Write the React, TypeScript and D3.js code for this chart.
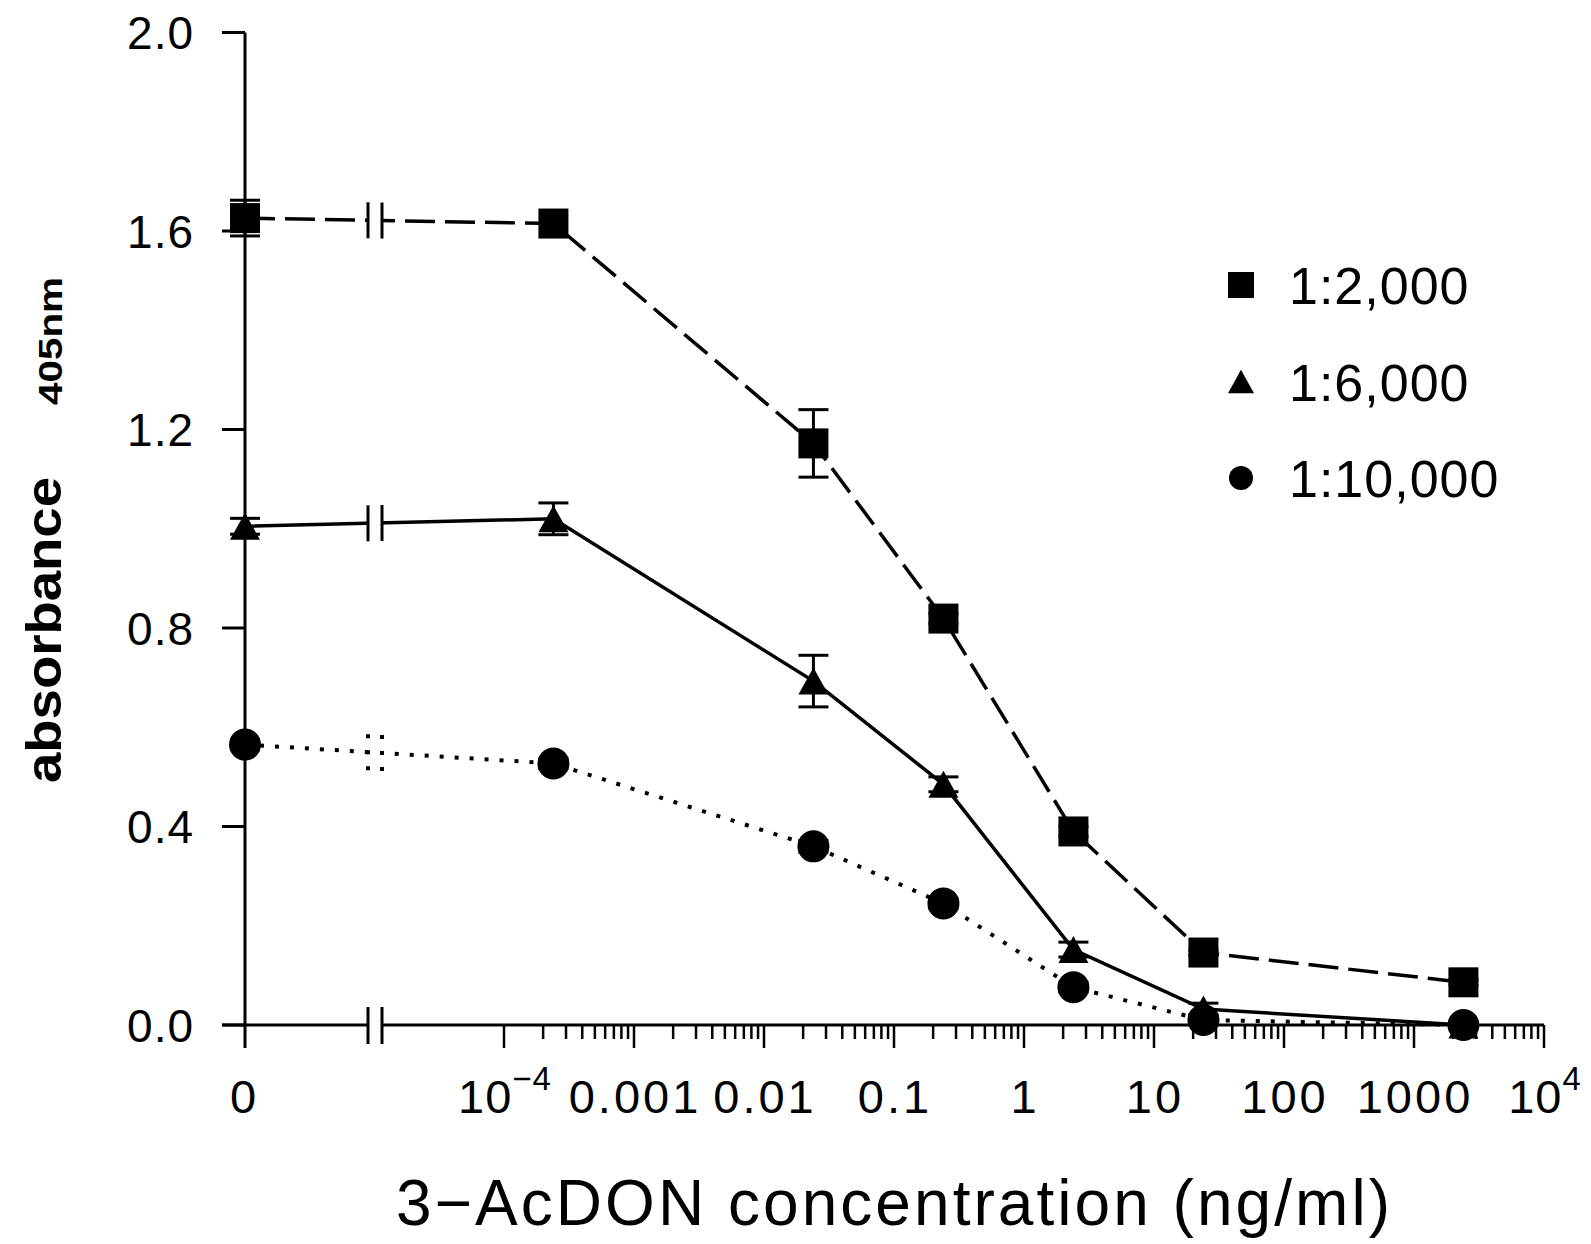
import * as d3 from 'd3';

// concentrations in ng/ml (0 = blank, plotted left of the axis break)
const concentrations = [0, 0.00024, 0.024, 0.24, 2.4, 24, 2400];

const dil2000 = [1.626, 1.615, 1.172, 0.819, 0.39, 0.146, 0.086];
const dil2000Err = [0.036, 0, 0.068, 0.01, 0.01, 0.005, 0.005];
const dil6000 = [1.005, 1.02, 0.693, 0.485, 0.152, 0.032, 0.0];
const dil6000Err = [0.016, 0.032, 0.052, 0.015, 0.015, 0.012, 0];
const dil10000 = [0.565, 0.527, 0.36, 0.245, 0.076, 0.01, 0.0];
const dil10000Err = [0.01, 0.01, 0.012, 0.01, 0.01, 0.01, 0];

const seriesNames = ['1:2,000', '1:6,000', '1:10,000'];
const yTicks = [0, 0.4, 0.8, 1.2, 1.6, 2.0];
const xMajor = [1e-4, 1e-3, 1e-2, 1e-1, 1, 10, 100, 1000, 1e4];
const xMajorLabels = ['10|−4', '0.001', '0.01', '0.1', '1', '10', '100', '1000', '10|4'];

const W = 1591;
const H = 1244;
const X_ZERO = 245;
const BREAK_L = 368;
const BREAK_R = 382;
const FONT = '"Liberation Sans", Arial, Helvetica, sans-serif';
const NARROW = '"Liberation Sans Narrow", "Liberation Sans", Arial, sans-serif';

const y = d3.scaleLinear([0, 2], [1025, 32.5]);
const xLog = d3.scaleLog([1e-4, 1e4], [504, 1544]);
const xPos = (c: number) => (c === 0 ? X_ZERO : xLog(c));

type Marker = 'square' | 'triangle' | 'circle';

const series = [
  { name: seriesNames[0], values: dil2000, err: dil2000Err, marker: 'square' as Marker, dash: '30 10' },
  { name: seriesNames[1], values: dil6000, err: dil6000Err, marker: 'triangle' as Marker, dash: undefined },
  { name: seriesNames[2], values: dil10000, err: dil10000Err, marker: 'circle' as Marker, dash: '4 11' },
];

const MarkerShape = ({ kind, cx, cy, s }: { kind: Marker; cx: number; cy: number; s: number }) => {
  if (kind === 'square') return <rect x={cx - s / 2} y={cy - s / 2} width={s} height={s} fill="#000" />;
  if (kind === 'circle') return <circle cx={cx} cy={cy} r={s / 2} fill="#000" />;
  const h = s * 0.9;
  return <path d={`M${cx},${cy - h / 2}L${cx + s / 2},${cy + h / 2}L${cx - s / 2},${cy + h / 2}Z`} fill="#000" />;
};

export default function App() {
  const line = d3
    .line<number>()
    .x((_, i) => xPos(concentrations[i]))
    .y((d) => y(d));

  // y of the straight segment between the blank and the first concentration at a given x
  const yAt = (vals: number[], px: number) => {
    const x0 = xPos(concentrations[0]);
    const x1 = xPos(concentrations[1]);
    const t = (px - x0) / (x1 - x0);
    return y(vals[0]) + t * (y(vals[1]) - y(vals[0]));
  };

  const logTicks = xLog.ticks();
  const axisY = y(0);

  return (
    <svg width={W} height={H} style={{ position: 'absolute', left: 0, top: 0, background: '#fff' }}>
      <defs>
        <clipPath id="brk">
          <rect x={0} y={0} width={BREAK_L + 0.5} height={H} />
          <rect x={BREAK_R - 0.5} y={0} width={W} height={H} />
        </clipPath>
      </defs>
      <rect width={W} height={H} fill="#fff" />

      {/* y axis */}
      <g stroke="#000" strokeWidth={3} fill="none">
        <line x1={X_ZERO} x2={X_ZERO} y1={y(2)} y2={axisY + 23} />
        {yTicks.map((t) => (
          <line key={t} x1={X_ZERO - 23} x2={X_ZERO} y1={y(t)} y2={y(t)} />
        ))}
      </g>
      <g fontFamily={FONT} fontSize={46} textAnchor="end">
        {yTicks.map((t) => (
          <text key={t} x={194} y={y(t)} dy="0.36em" letterSpacing={1}>
            {t.toFixed(1)}
          </text>
        ))}
      </g>

      {/* x axis with break */}
      <g stroke="#000" strokeWidth={3} fill="none">
        <line x1={X_ZERO - 23} x2={BREAK_L} y1={axisY} y2={axisY} />
        <line x1={BREAK_R} x2={xLog(1e4)} y1={axisY} y2={axisY} />
        <line x1={BREAK_L} x2={BREAK_L} y1={axisY - 18} y2={axisY + 19} />
        <line x1={BREAK_R} x2={BREAK_R} y1={axisY - 18} y2={axisY + 19} />
        {logTicks.map((t, i) => {
          const major = Math.abs(Math.log10(t) - Math.round(Math.log10(t))) < 1e-9;
          return <line key={i} x1={xLog(t)} x2={xLog(t)} y1={axisY} y2={axisY + (major ? 23 : 14)} strokeWidth={2.5} />;
        })}
      </g>
      <g fontFamily={FONT} fontSize={47} textAnchor="middle">
        <text x={X_ZERO - 2} y={1113}>0</text>
        {xMajor.map((t, i) => {
          const [base, sup] = xMajorLabels[i].split('|');
          return (
            <text key={t} x={xLog(t) + 1} y={1113} letterSpacing={sup ? 1 : 3}>
              {base}
              {sup && (
                <tspan fontSize={33} dy={-23}>
                  {sup}
                </tspan>
              )}
            </text>
          );
        })}
      </g>

      {/* axis titles */}
      <text
        x={893}
        y={1225}
        fontFamily={NARROW}
        fontSize={64}
        textAnchor="middle"
        textLength={994}
        lengthAdjust="spacing"
      >
        3−AcDON concentration (ng/ml)
      </text>
      <text
        transform="translate(61,630) rotate(-90)"
        fontFamily={FONT}
        fontWeight="bold"
        fontSize={50}
        textAnchor="middle"
        textLength={306}
        lengthAdjust="spacingAndGlyphs"
      >
        absorbance
      </text>
      <text
        transform="translate(62,341) rotate(-90)"
        fontFamily={FONT}
        fontWeight="bold"
        fontSize={33}
        textAnchor="middle"
        textLength={128}
        lengthAdjust="spacingAndGlyphs"
      >
        405nm
      </text>

      {/* series lines */}
      <g clipPath="url(#brk)" fill="none" stroke="#000">
        {series.map((s) => (
          <path
            key={s.name}
            d={line(s.values) ?? ''}
            strokeDasharray={s.dash}
            strokeWidth={s.marker === 'circle' ? 4 : 3.5}
          />
        ))}
      </g>

      {/* break marks on each line */}
      <g stroke="#000" fill="none">
        {series.map((s) =>
          [BREAK_L, BREAK_R].map((bx) => {
            const by = yAt(s.values, bx);
            return (
              <line
                key={s.name + bx}
                x1={bx}
                x2={bx}
                y1={by - 18}
                y2={by + 18}
                strokeDasharray={s.marker === 'circle' ? '4 12' : undefined}
                strokeWidth={s.marker === 'circle' ? 4 : 3}
              />
            );
          })
        )}
      </g>

      {/* error bars */}
      <g stroke="#000" strokeWidth={3}>
        {series.map((s) =>
          s.values.map((v, i) => {
            const e = s.err[i];
            if (!e) return null;
            const cx = xPos(concentrations[i]);
            return (
              <g key={s.name + i}>
                <line x1={cx} x2={cx} y1={y(v + e)} y2={y(v - e)} />
                <line x1={cx - 15} x2={cx + 15} y1={y(v + e)} y2={y(v + e)} />
                <line x1={cx - 15} x2={cx + 15} y1={y(v - e)} y2={y(v - e)} />
              </g>
            );
          })
        )}
      </g>

      {/* markers */}
      {series.map((s) =>
        s.values.map((v, i) => (
          <MarkerShape
            key={s.name + 'm' + i}
            kind={s.marker}
            cx={xPos(concentrations[i])}
            cy={y(v)}
            s={s.marker === 'circle' ? 32 : 30}
          />
        ))
      )}

      {/* legend */}
      <g fontFamily={FONT} fontSize={52}>
        {series.map((s, i) => {
          const base = 304 + i * 96.5;
          return (
            <g key={s.name}>
              <MarkerShape kind={s.marker} cx={1241} cy={base - 19} s={s.marker === 'circle' ? 24 : 26} />
              <text x={1289} y={base} letterSpacing={1}>
                {s.name}
              </text>
            </g>
          );
        })}
      </g>
    </svg>
  );
}
